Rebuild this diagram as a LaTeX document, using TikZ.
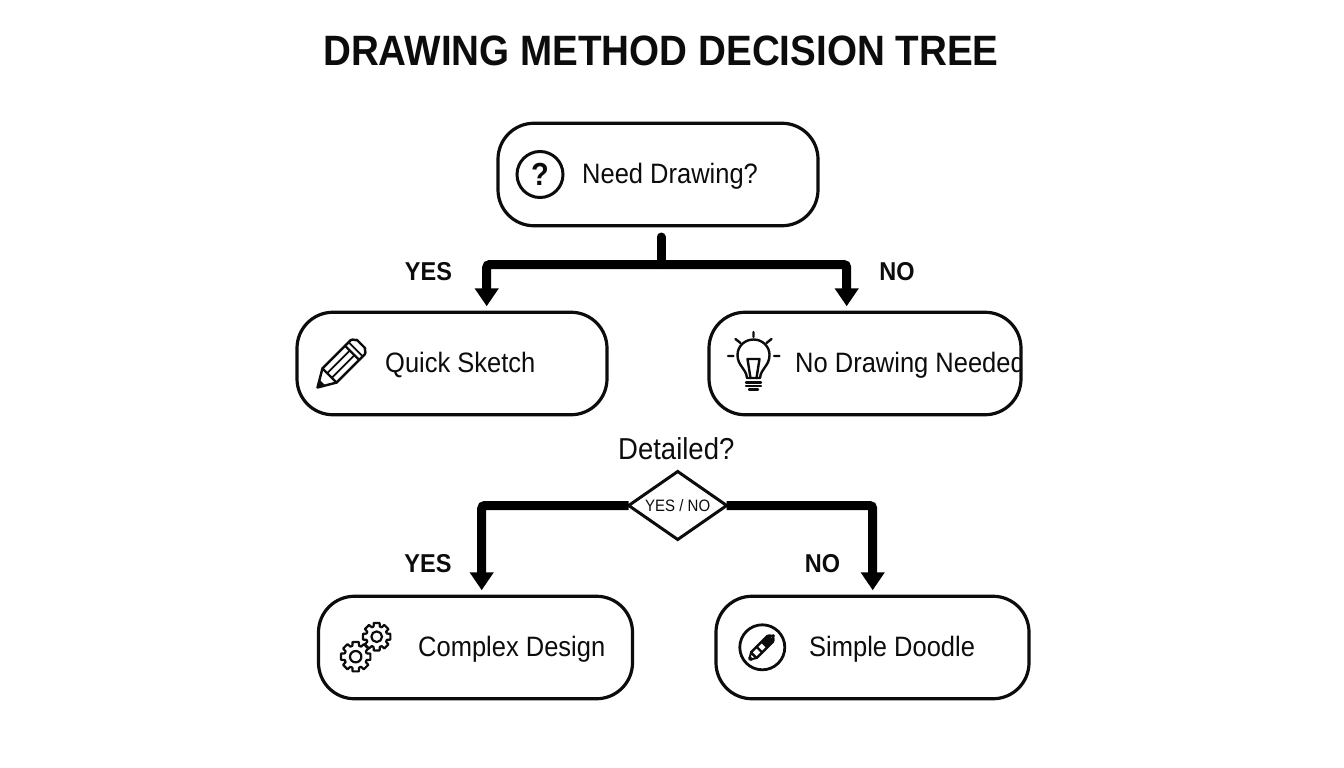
\documentclass[tikz,border=0pt]{standalone}
\usepackage{fontspec}
\setmainfont{Liberation Sans}
\usetikzlibrary{shapes.geometric,arrows.meta}
\definecolor{ink}{HTML}{0C0C0C}
\newcommand{\fsz}[1]{\fontsize{#1}{#1}\selectfont}
\newcommand{\tall}[1]{\scalebox{1}[1.1]{#1}}
\tikzset{
  decbox/.style={draw=ink,line width=3.2pt,rectangle,rounded corners=36pt,inner sep=0pt,outer sep=0pt,minimum height=102.5pt},
  txt/.style={anchor=base west,inner sep=0pt,text=ink,font=\fsz{25.5}},
  branch/.style={anchor=base,inner sep=0pt,text=ink,font=\fsz{23.5}\bfseries},
  bar/.style={draw=black,line width=9pt,line cap=round},
  flow/.style={draw=black,line width=9pt,rounded corners=3pt,shorten >=6pt,-{Triangle[width=23pt,length=18pt]}},
  icon/.style={draw=ink,line width=2.4pt,line join=round,line cap=round},
  pics/gearicon/.style={code={
    \draw[icon,line width=2.2pt] (-12:#1)
      \foreach \a in {0,45,...,315} {
        -- (\a-12:#1) -- (\a+12:#1) -- (\a+17:0.76*#1) -- (\a+28:0.76*#1)
      } -- cycle;
    \draw[icon,line width=2.2pt] (0,0) circle (0.38*#1);
  }}
}
\begin{document}
\begin{tikzpicture}[x=1pt,y=-1pt]
\useasboundingbox (0,0) rectangle (1344,768);
% title
\node[anchor=base,inner sep=0pt,text=ink,font=\fsz{38.6}\bfseries] (title) at (661,65.5) {\tall{DRAWING METHOD DECISION TREE}};
% boxes
\node[decbox,minimum width=320pt] (need) at (658,174.5) {};
\node[decbox,minimum width=310pt] (quick) at (452,363.5) {};
\node[decbox,minimum width=312pt] (none) at (865,363.5) {};
\node[decbox,minimum width=314pt] (complex) at (475.5,647.5) {};
\node[decbox,minimum width=313pt] (doodle) at (872.5,647.5) {};
\node[draw=ink,line width=3pt,shape=diamond,minimum width=98pt,minimum height=68pt,inner sep=0pt,outer sep=0pt] (dia) at (677.7,505.5) {};
% texts
\node[txt] (t1) at (582,183) {\tall{Need Drawing?}};
\node[txt] (t2) at (385,372.5) {\tall{Quick Sketch}};
\begin{scope}
\clip (700,300) rectangle (1021,430);
\node[txt] (t3) at (795,372.5) {\tall{No Drawing Needed}};
\end{scope}
\node[txt] (t4) at (418,656.5) {\tall{Complex Design}};
\node[txt] (t5) at (809,656.5) {\tall{Simple Doodle}};
\node[txt,font=\fsz{27.5}] (t6) at (618,459) {\tall{Detailed?}};
\node[txt,font=\fsz{15}] (t7) at (645,511.5) {\tall{YES / NO}};
\node[branch] (l1) at (428.5,280) {\tall{YES}};
\node[branch] (l2) at (897,280) {\tall{NO}};
\node[branch] (l3) at (428,572) {\tall{YES}};
\node[branch] (l4) at (822.5,572) {\tall{NO}};
% connectors
\coordinate (stem) at (661,237);
\coordinate (bus) at (661,264.5);
\coordinate (qin) at (486.7,0 |- quick.north);
\coordinate (nin) at (846.7,0 |- none.north);
\coordinate (cin) at (481.7,0 |- complex.north);
\coordinate (din) at (872.7,0 |- doodle.north);
\draw[bar] (stem) -- (bus);
\draw[flow] (bus) -| (qin);
\draw[flow] (bus) -| (nin);
\draw[flow] (dia.west) -| (cin);
\draw[flow] (dia.east) -| (din);
% question icon
\node[draw=ink,line width=3pt,circle,minimum size=46pt,inner sep=0pt,text=ink,font=\fsz{29}\bfseries] (qmark) at (540,174.5) {\tall{?}};
% pencil icon
\begin{scope}[shift={(317.5,387.5)},rotate=45]
  \draw[icon] (0,0) -- (17,-10) -- (57,-10) to[out=0,in=-90] (61.5,-6) -- (61.5,6) to[out=90,in=0] (57,10) -- (17,10) -- cycle;
  \fill[ink] (0,0) -- (7,-4.2) -- (7,4.2) -- cycle;
  \draw[icon] (17,-10) -- (17,10) (49,-10) -- (49,10);
  \draw[icon,line width=1.8pt] (17,-3.3) -- (49,-3.3) (17,3.3) -- (49,3.3);
  \draw[icon,line width=1.8pt] (54,-10) -- (54,10);
\end{scope}
% bulb icon
\begin{scope}
  \draw[icon] (747,378) .. controls (746,368) and (737.5,366) .. (737.5,355) .. controls (737.5,346) and (745,339.5) .. (753.5,339.5) .. controls (762,339.5) and (769.5,346) .. (769.5,355) .. controls (769.5,366) and (761,368) .. (760,378) -- cycle;
  \draw[icon] (750.5,378) -- (747.5,359) -- (759.5,359) -- (756.5,378);
  \draw[icon] (746,382.5) -- (761,382.5) (746,386) -- (761,386) (749,389.5) -- (758,389.5);
  \draw[icon] (753.5,332) -- (753.5,337) (735.5,339) -- (740.5,343) (771.5,339) -- (766.5,343) (728,356) -- (733.5,356) (774,356) -- (779.5,356);
\end{scope}
% gears icon
\path (376.7,636.7) pic {gearicon=14};
\path (355.7,656.7) pic {gearicon=15};
% doodle icon
\node[draw=ink,line width=2.8pt,circle,minimum size=45pt,inner sep=0pt] (dcircle) at (762.3,647.3) {};
\begin{scope}[shift={(749.5,659.5)},rotate=45]
  \draw[icon,line width=2pt] (0,0) -- (6,-4) -- (6,4) -- cycle;
  \fill[ink] (0,-2) -- (3,-3) -- (3,3) -- (0,2) -- cycle;
  \draw[icon] (6,-4) -- (29,-4) to[out=0,in=-90] (34,0) to[out=90,in=0] (29,4) -- (6,4) -- cycle;
  \draw[icon] (14,-4) -- (14,4);
  \fill[ink] (20,-4) rectangle (31,4);
\end{scope}
\end{tikzpicture}
\end{document}
